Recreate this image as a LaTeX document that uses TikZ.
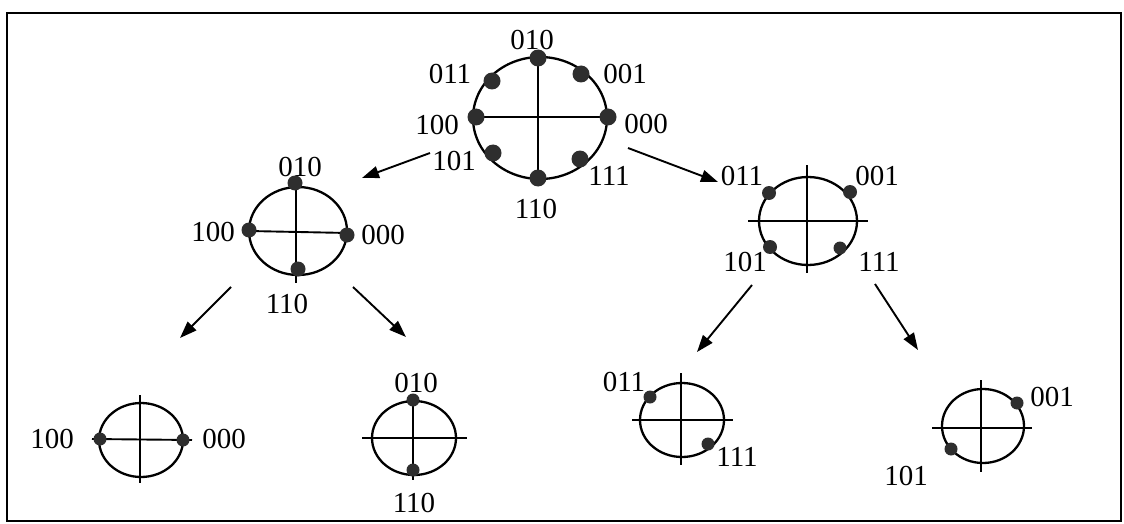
\documentclass[tikz,border=0pt]{standalone}
\usepackage{fontspec}
\setmainfont{Liberation Serif}
\usetikzlibrary{arrows.meta}
\begin{document}
\begin{tikzpicture}[x=1pt,y=-1pt,
  ring/.style={line width=2.3pt},
  axis/.style={line width=1.9pt},
  dot/.style={circle,fill=black!82,inner sep=0pt,minimum size=#1},
  lbl/.style={inner sep=0pt,font=\fontsize{29}{29}\selectfont},
  arr/.style={line width=1.9pt,-{Triangle[length=17pt,width=12pt]}}]
\useasboundingbox (0,0) rectangle (1124,524);
\draw[line width=2pt] (7,13) rectangle (1121,521);

% ---- root: 8 points ----
\coordinate (T) at (540,118);
\draw[ring] (T) ellipse [x radius=67, y radius=61];
\draw[axis] (538,58) -- (538,178);
\draw[axis] (476,117) -- (608,117);
\node[dot=17pt] (t010) at (538,58) {};
\node[dot=17pt] (t001) at (581,74) {};
\node[dot=17pt] (t000) at (608,117) {};
\node[dot=17pt] (t111) at (580,159) {};
\node[dot=17pt] (t110) at (538,178) {};
\node[dot=17pt] (t101) at (493,153) {};
\node[dot=17pt] (t100) at (476,117) {};
\node[dot=17pt] (t011) at (492,81) {};
\node[lbl] (lt010) at (532,40) {010};
\node[lbl] (lt011) at (450,74) {011};
\node[lbl] (lt001) at (625,74) {001};
\node[lbl] (lt100) at (437,125) {100};
\node[lbl] (lt000) at (646,124) {000};
\node[lbl] (lt101) at (454,161) {101};
\node[lbl] (lt111) at (609,176) {111};
\node[lbl] (lt110) at (536,209) {110};

% ---- level 1, left ----
\coordinate (L) at (298,231);
\draw[ring] (L) ellipse [x radius=49, y radius=44];
\draw[axis] (296,183) -- (296,283);
\draw[axis] (249,231) -- (348,233);
\node[dot=15pt] (l010) at (295,183) {};
\node[dot=15pt] (l100) at (249,230) {};
\node[dot=15pt] (l000) at (347,235) {};
\node[dot=15pt] (l110) at (298,269) {};
\node[lbl] (ll010) at (300,167) {010};
\node[lbl] (ll100) at (213,232) {100};
\node[lbl] (ll000) at (383,235) {000};
\node[lbl] (ll110) at (287,304) {110};

% ---- level 1, right ----
\coordinate (R) at (808,221);
\draw[ring] (R) ellipse [x radius=49, y radius=44];
\draw[axis] (807,165) -- (807,273);
\draw[axis] (748,221) -- (868,221);
\node[dot=14pt] (r011) at (769,193) {};
\node[dot=14pt] (r001) at (850,192) {};
\node[dot=14pt] (r101) at (770,247) {};
\node[dot=13pt] (r111) at (840,248) {};
\node[lbl] (lr011) at (742,176) {011};
\node[lbl] (lr001) at (877,176) {001};
\node[lbl] (lr101) at (745,262) {101};
\node[lbl] (lr111) at (879,262) {111};

% ---- level 2 ----
\coordinate (A) at (141,440);
\draw[ring] (A) ellipse [x radius=42, y radius=37];
\draw[axis] (140,395) -- (140,483);
\draw[axis] (92,439) -- (192,440);
\node[dot=13pt] (a100) at (100,439) {};
\node[dot=13pt] (a000) at (183,440) {};
\node[lbl] (la100) at (52,439) {100};
\node[lbl] (la000) at (224,439) {000};

\coordinate (B) at (414,438);
\draw[ring] (B) ellipse [x radius=42, y radius=37];
\draw[axis] (413,395) -- (413,480);
\draw[axis] (362,438) -- (467,438);
\node[dot=13pt] (b010) at (413,400) {};
\node[dot=13pt] (b110) at (413,470) {};
\node[lbl] (lb010) at (416,383) {010};
\node[lbl] (lb110) at (414,503) {110};

\coordinate (C) at (682,420);
\draw[ring] (C) ellipse [x radius=42, y radius=37];
\draw[axis] (681,373) -- (681,465);
\draw[axis] (632,420) -- (733,420);
\node[dot=13pt] (c011) at (650,397) {};
\node[dot=13pt] (c111) at (708,444) {};
\node[lbl] (lc011) at (624,382) {011};
\node[lbl] (lc111) at (737,457) {111};

\coordinate (D) at (983,426);
\draw[ring] (D) ellipse [x radius=41, y radius=37];
\draw[axis] (981,380) -- (981,472);
\draw[axis] (932,428) -- (1032,428);
\node[dot=13pt] (d001) at (1017,403) {};
\node[dot=13pt] (d101) at (951,449) {};
\node[lbl] (ld001) at (1052,397) {001};
\node[lbl] (ld101) at (906,476) {101};

% ---- splitting arrows ----
\coordinate (s1) at (430,153); \coordinate (e1) at (362,178);
\coordinate (s2) at (628,148); \coordinate (e2) at (718,182);
\coordinate (s3) at (231,287); \coordinate (e3) at (180,338);
\coordinate (s4) at (353,287); \coordinate (e4) at (406,337);
\coordinate (s5) at (752,285); \coordinate (e5) at (697,352);
\coordinate (s6) at (875,284); \coordinate (e6) at (918,350);
\foreach \i in {1,...,6} \draw[arr] (s\i) -- (e\i);
\end{tikzpicture}
\end{document}
